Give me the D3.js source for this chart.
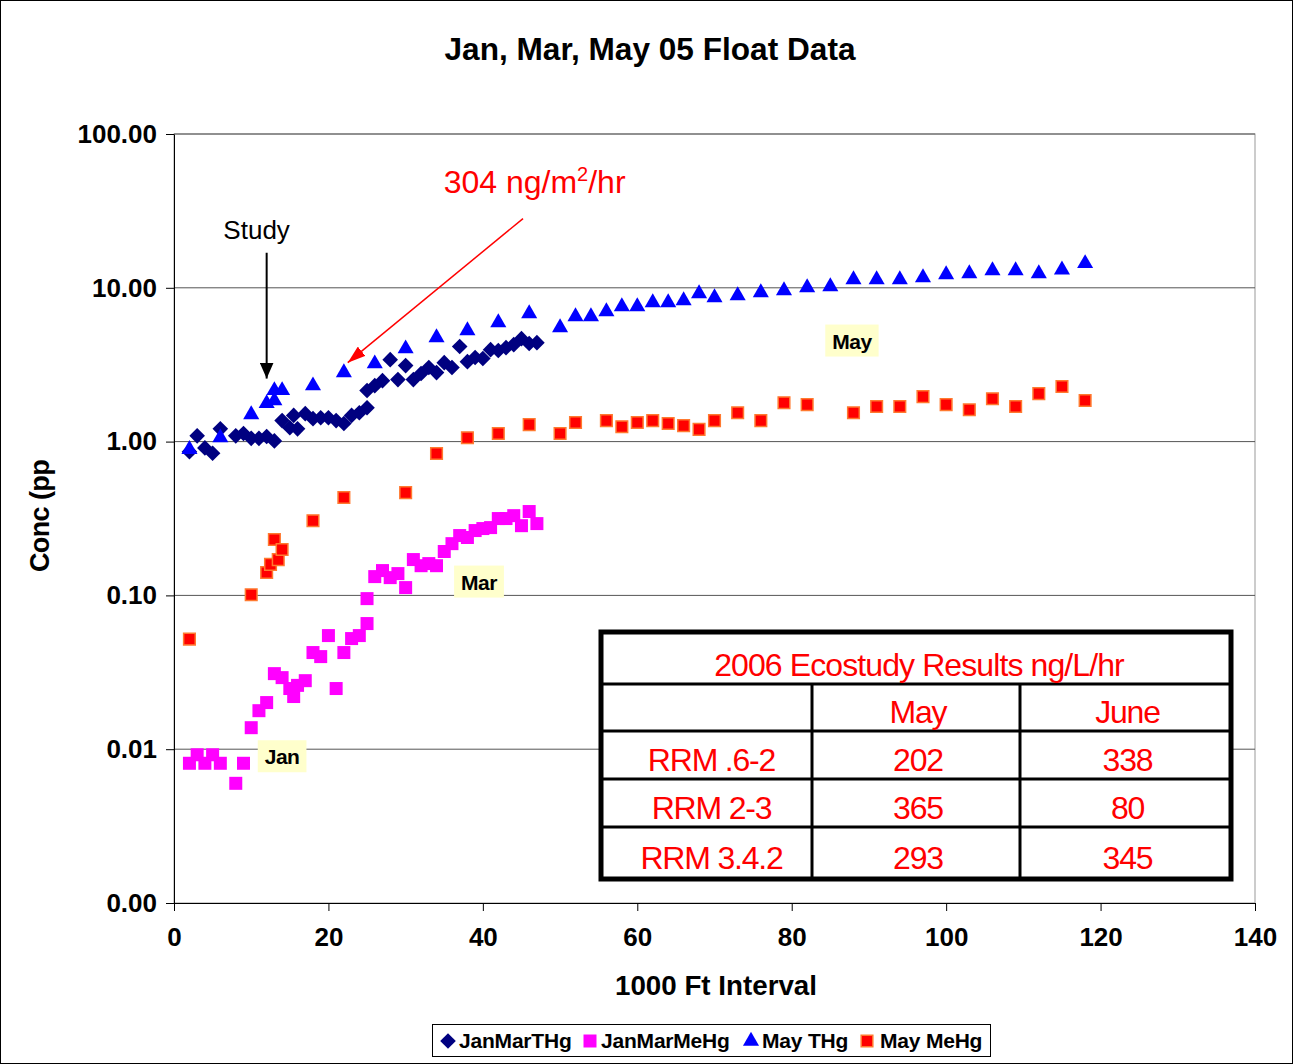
<!DOCTYPE html>
<html>
<head>
<meta charset="utf-8">
<script src="https://cdn.jsdelivr.net/npm/d3@7/dist/d3.min.js"></script>
<style>
  body { margin: 0; background: #fff; }
  text { font-family: "Liberation Sans", Arial, sans-serif; }
</style>
</head>
<body>
<script>
// [1000 ft interval, conc]
const JAN_MAR_THG = [
  [2,0.86],[3,1.09],[4,0.91],[5,0.84],[6,1.21],[8,1.09],[9,1.13],[10,1.05],[11,1.05],
  [12,1.08],[13,1.01],[14,1.37],[15,1.23],[15.5,1.48],[16,1.21],[17,1.52],[18,1.41],
  [19,1.43],[20,1.43],[21,1.37],[22,1.31],[23,1.48],[24,1.54],[25,1.66],[25,2.15],
  [26,2.31],[27,2.49],[28,3.41],[29,2.53],[30,3.12],[31,2.53],[32,2.77],[33,3.03],
  [34,2.81],[35,3.26],[36,3.03],[37,4.15],[38,3.31],[39,3.52],[40,3.47],[41,3.96],
  [42,3.91],[43,4.08],[44,4.27],[45,4.67],[46,4.34],[47,4.40]
];
const JAN_MAR_MEHG = [
  [2,0.0081],[3,0.0092],[4,0.0081],[5,0.0092],[6,0.0081],[8,0.0060],[9,0.0081],
  [10,0.0138],[11,0.0178],[12,0.0201],[13,0.031],[14,0.0292],[15,0.0248],[15.5,0.022],
  [16,0.026],[17,0.0279],[18,0.0425],[19,0.040],[20,0.0548],[21,0.0248],[22,0.0425],
  [23,0.0524],[24,0.0548],[25,0.0656],[25,0.0953],[26,0.1325],[27,0.145],[28,0.1305],
  [29,0.1386],[30,0.1124],[31,0.171],[32,0.156],[33,0.161],[34,0.156],[35,0.193],
  [36,0.217],[37,0.245],[38,0.238],[39,0.264],[40,0.272],[41,0.276],[42,0.316],
  [43,0.316],[44,0.330],[45,0.284],[46,0.351],[47,0.293]
];
const MAY_THG = [
  [2,0.89],[6,1.06],[10,1.50],[12,1.77],[13,1.85],[13,2.15],[14,2.15],[18,2.31],
  [22,2.81],[26,3.21],[30,4.02],[34,4.75],[38,5.27],[42,5.94],[46,6.79],[50,5.51],
  [52,6.50],[54,6.50],[56,7.0],[58,7.55],[60,7.55],[62,8.01],[64,8.01],[66,8.26],
  [68,9.17],[70,8.63],[73,8.90],[76,9.31],[79,9.59],[82,10.03],[85,10.18],[88,11.3],
  [91,11.3],[94,11.3],[97,11.65],[100,12.18],[103,12.37],[106,12.93],[109,12.93],
  [112,12.37],[115,13.1],[118,14.4]
];
const MAY_MEHG = [
  [2,0.052],[10,0.101],[12,0.141],[12.5,0.159],[13,0.231],[13.5,0.171],[14,0.199],
  [18,0.306],[22,0.433],[30,0.466],[34,0.836],[38,1.06],[42,1.13],[46,1.29],[50,1.13],
  [52,1.33],[56,1.37],[58,1.25],[60,1.33],[62,1.37],[64,1.31],[66,1.27],[68,1.20],
  [70,1.37],[73,1.54],[76,1.37],[79,1.79],[82,1.74],[88,1.54],[91,1.69],[94,1.69],
  [97,1.96],[100,1.74],[103,1.61],[106,1.90],[109,1.69],[112,2.05],[115,2.28],[118,1.85]
];

const SERIES_NAMES = ["JanMarTHg", "JanMarMeHg", "May THg", "May MeHg"];
const X_TICKS = [0, 20, 40, 60, 80, 100, 120, 140];
const Y_TICKS = [0.001, 0.01, 0.1, 1, 10, 100];

// month labels [x, conc, text]
const MONTH_LABELS = [[87.8, 4.54, "May"], [39.5, 0.123, "Mar"], [14, 0.009, "Jan"]];

const TABLE_TITLE = "2006 Ecostudy Results ng/L/hr";
const TABLE_COLUMNS = ["", "May", "June"];
const TABLE_SITES = ["RRM .6-2", "RRM 2-3", "RRM 3.4.2"];
const TABLE_MAY = [202, 365, 293];
const TABLE_JUNE = [338, 80, 345];

const width = 1293;
const height = 1064;
const plot = { left: 174, right: 1255, top: 134, bottom: 903 };

const xScale = d3.scaleLinear()
  .domain([0, 140])
  .range([plot.left, plot.right]);

const yScale = d3.scaleLog()
  .domain([0.001, 100])
  .range([plot.bottom, plot.top]);

const diamond = d3.symbol().type(d3.symbolSquare).size(122)();
const triangle = d3.symbol().type(d3.symbolTriangle).size(112)();
const squareBig = d3.symbol().type(d3.symbolSquare).size(169)();
const squareSmall = d3.symbol().type(d3.symbolSquare).size(135)();

const STYLES = [
  { path: diamond, fill: "#000080", stroke: "none", rot: 45 },
  { path: squareBig, fill: "#FF00FF", stroke: "none", rot: 0 },
  { path: triangle, fill: "#0000FF", stroke: "none", rot: 0 },
  { path: squareSmall, fill: "#FF0000", stroke: "#FF7A30", rot: 0 }
];

document.addEventListener("DOMContentLoaded", function () {
  let svg = d3.select("body").append("svg")
    .attr("width", width)
    .attr("height", height);

  svg.append("rect")
    .attr("x", 0.5).attr("y", 0.5)
    .attr("width", width - 1).attr("height", height - 1)
    .attr("fill", "#fff").attr("stroke", "#000");

  let defs = svg.append("defs");
  defs.append("marker").attr("id", "headBlack")
    .attr("viewBox", "0 0 16 14").attr("refX", 16).attr("refY", 7)
    .attr("markerWidth", 16).attr("markerHeight", 14)
    .attr("markerUnits", "userSpaceOnUse").attr("orient", "auto")
    .append("path").attr("d", "M0,0L16,7L0,14Z").attr("fill", "#000");
  defs.append("marker").attr("id", "headRed")
    .attr("viewBox", "0 0 18 12").attr("refX", 18).attr("refY", 6)
    .attr("markerWidth", 18).attr("markerHeight", 12)
    .attr("markerUnits", "userSpaceOnUse").attr("orient", "auto")
    .append("path").attr("d", "M0,0L18,6L0,12Z").attr("fill", "#FF0000");

  // title
  svg.append("text")
    .attr("x", 650).attr("y", 60)
    .attr("text-anchor", "middle")
    .attr("font-size", 31).attr("font-weight", "bold")
    .attr("textLength", 411).attr("lengthAdjust", "spacingAndGlyphs")
    .text("Jan, Mar, May 05 Float Data");

  // plot border + grid
  svg.append("rect")
    .attr("x", plot.left).attr("y", plot.top)
    .attr("width", plot.right - plot.left).attr("height", plot.bottom - plot.top)
    .attr("fill", "none").attr("stroke", "#999");

  svg.selectAll(".grid")
    .data(Y_TICKS.slice(1))
    .enter()
      .append("line")
      .attr("x1", plot.left).attr("x2", plot.right)
      .attr("y1", function (d) { return yScale(d); })
      .attr("y2", function (d) { return yScale(d); })
      .attr("stroke", "#555").attr("stroke-width", 1);

  // axes
  let yAxis = svg.append("g")
    .attr("transform", "translate(" + plot.left + ",0)")
    .call(d3.axisLeft(yScale).tickValues(Y_TICKS).tickFormat(d3.format(".2f"))
      .tickSize(8).tickSizeOuter(0).tickPadding(9));
  let xAxis = svg.append("g")
    .attr("transform", "translate(0," + plot.bottom + ")")
    .call(d3.axisBottom(xScale).tickValues(X_TICKS).tickFormat(d3.format("d"))
      .tickSize(8).tickSizeOuter(0).tickPadding(17));
  [yAxis, xAxis].forEach(function (g) {
    g.attr("font-size", 26).attr("font-weight", "bold")
      .attr("font-family", "'Liberation Sans', Arial, sans-serif");
    g.selectAll("text").attr("fill", "#000");
    g.selectAll("line").attr("stroke", "#000");
    g.select(".domain").attr("stroke", "#000");
  });

  svg.append("text")
    .attr("x", 716).attr("y", 995)
    .attr("text-anchor", "middle")
    .attr("font-size", 27).attr("font-weight", "bold")
    .attr("textLength", 202).attr("lengthAdjust", "spacingAndGlyphs")
    .text("1000 Ft Interval");

  svg.append("text")
    .attr("transform", "translate(49,516) rotate(-90)")
    .attr("text-anchor", "middle")
    .attr("font-size", 27).attr("font-weight", "bold")
    .attr("letter-spacing", -0.6)
    .text("Conc (pp");

  // series
  [JAN_MAR_THG, JAN_MAR_MEHG, MAY_THG, MAY_MEHG].forEach(function (data, i) {
    let s = STYLES[i];
    svg.append("g").selectAll("path")
      .data(data)
      .enter()
        .append("path")
        .attr("d", s.path)
        .attr("transform", function (d) {
          return "translate(" + xScale(d[0]) + "," + yScale(d[1]) + ") rotate(" + s.rot + ")";
        })
        .attr("fill", s.fill)
        .attr("stroke", s.stroke)
        .attr("stroke-width", 1.5);
  });

  // month labels
  MONTH_LABELS.forEach(function (d) {
    let g = svg.append("g")
      .attr("transform", "translate(" + xScale(d[0]) + "," + yScale(d[1]) + ")");
    let r = g.append("rect").attr("fill", "#FFFFCC");
    let t = g.append("text")
      .attr("text-anchor", "middle").attr("y", 8)
      .attr("font-size", 21).attr("font-weight", "bold")
      .attr("letter-spacing", -0.5)
      .text(d[2]);
    let w = t.node().getComputedTextLength() + 14;
    r.attr("x", -w / 2).attr("y", -16).attr("width", w).attr("height", 32);
  });

  // annotations
  svg.append("text")
    .attr("x", xScale(10.7)).attr("y", yScale(20.9))
    .attr("text-anchor", "middle").attr("font-size", 26)
    .text("Study");
  svg.append("line")
    .attr("x1", xScale(12)).attr("x2", xScale(12))
    .attr("y1", yScale(16.9)).attr("y2", yScale(2.57))
    .attr("stroke", "#000").attr("stroke-width", 2)
    .attr("marker-end", "url(#headBlack)");

  let red = svg.append("text")
    .attr("x", xScale(46.7)).attr("y", yScale(41.6))
    .attr("text-anchor", "middle").attr("font-size", 32)
    .attr("fill", "#FF0000");
  red.append("tspan").text("304 ng/m");
  red.append("tspan").attr("font-size", 20).attr("dy", -12).text("2");
  red.append("tspan").attr("dy", 12).text("/hr");
  svg.append("line")
    .attr("x1", xScale(45.2)).attr("y1", yScale(28.2))
    .attr("x2", xScale(22.5)).attr("y2", yScale(3.26))
    .attr("stroke", "#FF0000").attr("stroke-width", 1.5)
    .attr("marker-end", "url(#headRed)");

  // table
  const colX = [601, 812, 1020, 1231];
  const rowY = [632, 684, 731, 779, 827, 879];
  let table = svg.append("g");
  table.append("rect")
    .attr("x", colX[0]).attr("y", rowY[0])
    .attr("width", colX[3] - colX[0]).attr("height", rowY[5] - rowY[0])
    .attr("fill", "#fff").attr("stroke", "#000").attr("stroke-width", 5);
  rowY.slice(1, 5).forEach(function (y) {
    table.append("line").attr("x1", colX[0]).attr("x2", colX[3])
      .attr("y1", y).attr("y2", y).attr("stroke", "#000").attr("stroke-width", 3);
  });
  colX.slice(1, 3).forEach(function (x) {
    table.append("line").attr("x1", x).attr("x2", x)
      .attr("y1", rowY[1]).attr("y2", rowY[5]).attr("stroke", "#000").attr("stroke-width", 3);
  });

  function cell(txt, cx, baseline, ls) {
    table.append("text")
      .attr("x", cx).attr("y", baseline)
      .attr("text-anchor", "middle").attr("font-size", 32)
      .attr("letter-spacing", ls)
      .attr("fill", "#FF0000")
      .text(txt);
  }
  cell(TABLE_TITLE, 919, 676, -0.9);
  let rows = [TABLE_COLUMNS].concat(TABLE_SITES.map(function (s, i) {
    return [s, TABLE_MAY[i], TABLE_JUNE[i]];
  }));
  rows.forEach(function (row, r) {
    row.forEach(function (v, c) {
      cell(v, (colX[c] + colX[c + 1]) / 2 + (c === 0 ? 5 : 2), rowY[r + 2] - (r === 3 ? 10 : 8), -1.2);
    });
  });

  // legend
  let legend = svg.append("g");
  legend.append("rect")
    .attr("x", 432.5).attr("y", 1024.5).attr("width", 558).attr("height", 32)
    .attr("fill", "#fff").attr("stroke", "#000");
  const legendX = [448, 590, 751, 867];
  SERIES_NAMES.forEach(function (name, i) {
    let s = STYLES[i];
    legend.append("path")
      .attr("d", s.path)
      .attr("transform", "translate(" + legendX[i] + ",1041) rotate(" + s.rot + ")")
      .attr("fill", s.fill).attr("stroke", s.stroke).attr("stroke-width", 1.5);
    legend.append("text")
      .attr("x", legendX[i] + (i === 3 ? 13 : 11)).attr("y", 1048)
      .attr("font-size", 21).attr("font-weight", "bold")
      .attr("letter-spacing", -0.2)
      .text(name);
  });
});
</script>
</body>
</html>
